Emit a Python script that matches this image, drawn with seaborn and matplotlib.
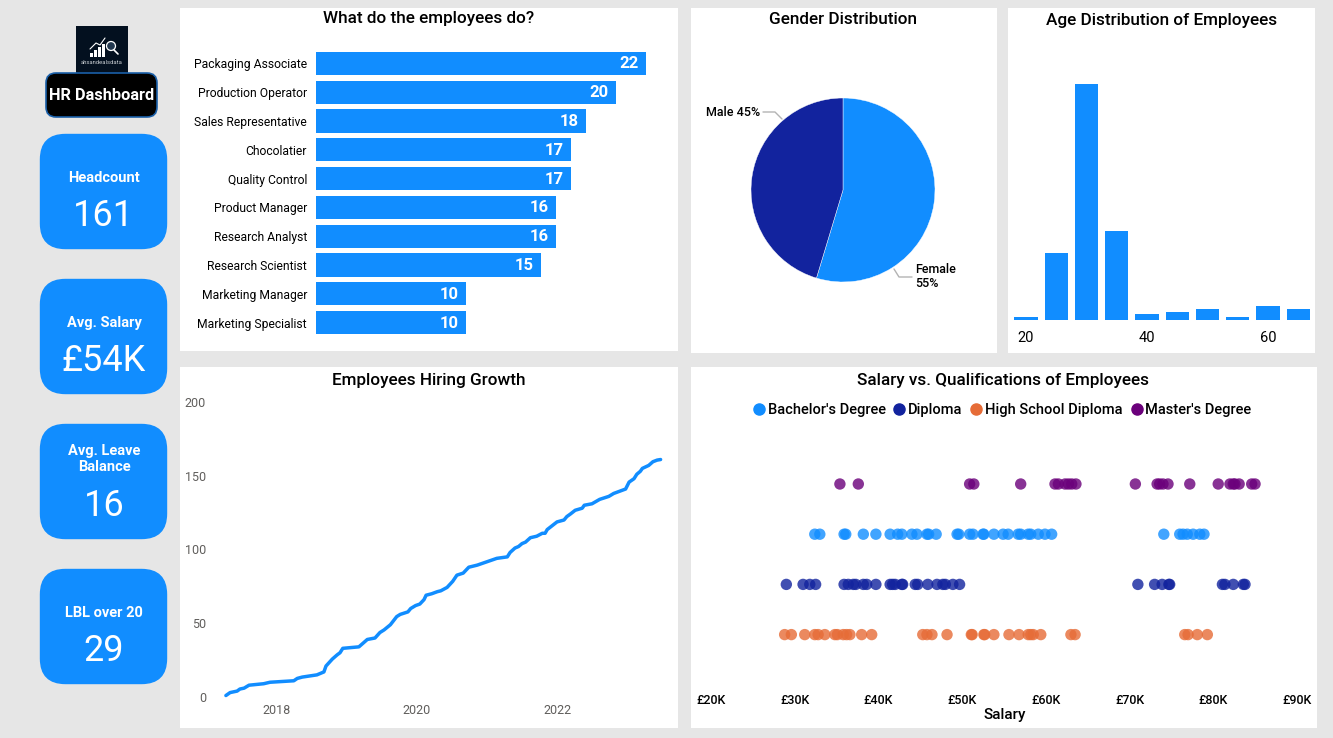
import matplotlib
matplotlib.use("Agg")
import matplotlib.pyplot as plt
import pandas as pd
import seaborn as sns
from matplotlib.lines import Line2D
from matplotlib.patches import Circle, FancyBboxPatch, Rectangle
from matplotlib.ticker import FuncFormatter

# job roles
job_titles = ["Packaging Associate", "Production Operator", "Sales Representative", "Chocolatier",
              "Quality Control", "Product Manager", "Research Analyst", "Research Scientist",
              "Marketing Manager", "Marketing Specialist"]
job_counts = [22, 20, 18, 17, 17, 16, 16, 15, 10, 10]

# gender
gender_labels = ["Female", "Male"]
gender_counts = [88, 73]

# age
age_bins = [20, 25, 30, 35, 40, 45, 50, 55, 60, 65]
age_counts = [1, 24, 85, 32, 2, 3, 4, 1, 5, 4]

# cumulative hires
hire_year = [2017.27, 2017.33, 2017.43, 2017.47, 2017.53, 2017.60, 2017.81, 2017.90, 2018.24, 2018.29,
             2018.36, 2018.57, 2018.67, 2018.70, 2018.79, 2018.86, 2018.90, 2018.94, 2019.17, 2019.23,
             2019.29, 2019.40, 2019.47, 2019.53, 2019.62, 2019.71, 2019.76, 2019.87, 2019.91, 2019.98,
             2020.04, 2020.10, 2020.13, 2020.21, 2020.29, 2020.34, 2020.43, 2020.51, 2020.57, 2020.66,
             2020.74, 2020.86, 2021.14, 2021.29, 2021.33, 2021.40, 2021.45, 2021.50, 2021.55, 2021.62,
             2021.71, 2021.79, 2021.83, 2021.86, 2022.00, 2022.10, 2022.14, 2022.19, 2022.26, 2022.36,
             2022.39, 2022.50, 2022.61, 2022.74, 2022.81, 2022.98, 2023.03, 2023.10, 2023.14, 2023.19,
             2023.22, 2023.31, 2023.37, 2023.43, 2023.48]
hire_total = [1, 3, 4, 5.4, 6, 8, 9, 10, 11, 12.6,
              13.5, 15, 17, 21, 25.7, 28.6, 30, 33, 34, 36.5,
              39, 40, 43.7, 45.5, 49, 54.5, 56, 57.7, 60, 62,
              63, 66, 69, 70, 71.4, 72, 74.3, 78.4, 82.6, 84,
              88, 89.4, 94, 95, 98, 101, 102, 104, 105, 108,
              109, 111, 111, 113.5, 118.7, 120, 122.3, 124, 126.6, 128,
              130, 131, 134, 136, 138, 141, 145.7, 148, 151, 153,
              155, 157, 159.5, 160.6, 161]

# salary in thousands, per qualification
salary_masters = [35.4, 37.6, 50.9, 51.4, 57.0, 61.1, 61.5, 62.3, 62.7, 63.1, 63.6, 70.7, 73.3, 73.6,
                  74.0, 74.6, 77.2, 80.6, 82.0, 82.4, 82.6, 83.1, 84.6, 85.0]
salary_bachelors = [32.4, 33.0, 35.9, 36.1, 38.2, 39.7, 41.4, 42.3, 42.8, 44.0, 44.6, 45.8, 46.0, 46.9,
                    49.4, 49.6, 50.9, 51.3, 52.5, 52.6, 53.8, 54.9, 55.5, 56.7, 57.0, 57.9, 58.2, 59.1,
                    59.9, 60.7, 74.1, 76.0, 76.4, 76.9, 77.6, 78.4, 78.9]
salary_diploma = [29.0, 31.0, 31.8, 32.5, 35.9, 36.4, 37.0, 37.3, 38.2, 38.6, 39.7, 41.4, 41.7, 42.0,
                  42.8, 42.9, 44.4, 44.7, 45.9, 47.0, 47.7, 48.0, 48.9, 49.7, 71.0, 73.0, 73.9, 74.7,
                  74.8, 81.1, 81.4, 82.4, 83.6, 83.8]
salary_highschool = [28.8, 29.6, 31.2, 32.4, 32.8, 33.6, 34.8, 35.1, 35.8, 36.2, 36.6, 38.0, 39.2, 45.3,
                     45.8, 46.4, 48.2, 51.1, 51.2, 52.6, 52.7, 53.8, 55.6, 56.8, 57.9, 58.2, 58.5, 59.4,
                     63.0, 63.5, 76.6, 77.0, 78.1, 79.3]

qual_legend = ["Bachelor's Degree", "Diploma", "High School Diploma", "Master's Degree"]
qual_rows = ["Master's Degree", "Bachelor's Degree", "Diploma", "High School Diploma"]

kpi_labels = ["Headcount", "Avg. Salary", "Avg. Leave\nBalance", "LBL over 20"]
kpi_values = ["161", "£54K", "16", "29"]

BLUE = "#118DFF"
NAVY = "#12239E"
ORANGE = "#E66C37"
PURPLE = "#6B007B"
GREY = "#605E5C"
W, H = 1333, 738

sns.set_theme(style="white")
plt.rcParams["font.family"] = ["Roboto", "DejaVu Sans"]
TITLE = 12.3
fig = plt.figure(figsize=(W / 100, H / 100), dpi=100, facecolor="#E6E6E6")


def axes_px(left, top, right, bottom):
    a = fig.add_axes([left / W, 1 - bottom / H, (right - left) / W, (bottom - top) / H])
    a.patch.set_alpha(0)
    sns.despine(ax=a, left=True, bottom=True)
    return a


# page furniture, in pixel coordinates
bg = fig.add_axes([0, 0, 1, 1], zorder=-1)
bg.set_xlim(0, W)
bg.set_ylim(H, 0)
bg.axis("off")
for l, t, r, b in [(180, 8, 678, 351), (691, 8, 997, 353), (1008, 8, 1315, 353),
                   (180, 367, 678, 728), (691, 367, 1317, 728)]:
    bg.add_patch(Rectangle((l, t), r - l, b - t, fc="white", ec="none"))


def round_box(x0, y0, x1, y1, rad, fc, ec="none", lw=0):
    bg.add_patch(FancyBboxPatch((x0 + rad, y0 + rad), x1 - x0 - 2 * rad, y1 - y0 - 2 * rad,
                                boxstyle=f"round,pad={rad},rounding_size={rad}", fc=fc, ec=ec, lw=lw))


# logo
bg.add_patch(Rectangle((76, 26), 52, 48, fc="#03101F", ec="none"))
for bx, bh in [(89.5, 4), (93.5, 7), (97.5, 10), (101.5, 13)]:
    bg.add_patch(Rectangle((bx, 57 - bh), 3, bh, fc="white", ec="none"))
bg.plot([90, 96, 100, 105], [49, 43, 45, 38], color="white", lw=0.8)
bg.add_patch(Circle((111, 46), 4.5, fc="#22384F", ec="white", lw=0.9))
bg.plot([114, 118], [50, 54], color="white", lw=1.2)
bg.text(102, 63, "ahsandealsdata", color="#C8CDD2", fontsize=4.2, ha="center", va="center")

round_box(46, 73, 157, 117, 10, "black", ec="#1A5FA8", lw=1.2)
bg.text(101.5, 96, "HR Dashboard", color="white", fontsize=11.8, fontweight="bold", ha="center", va="center")

for i, (lab, val) in enumerate(zip(kpi_labels, kpi_values)):
    top = 134 + 145 * i
    round_box(40.5, top + 0.5, 166.5, top + 114.5, 25, BLUE, ec=BLUE, lw=1)
    two_line = "\n" in lab
    bg.text(104, top + (35 if two_line else 44), lab, color="white", fontsize=10.5, fontweight="bold",
            ha="center", va="center", linespacing=1.15)
    bg.text(104, top + 82, val, color="white", fontsize=26, ha="center", va="center")

titles = [(429, 19, "What do the employees do?"), (843, 19, "Gender Distribution"),
          (1162, 20, "Age Distribution of Employees"), (429, 380, "Employees Hiring Growth"),
          (1003, 380, "Salary vs. Qualifications of Employees")]
for x, y, s in titles:
    bg.text(x, y, s, color="black", fontsize=TITLE, fontweight=500, ha="center", va="center")

# job bars
ax = axes_px(316, 49, 650, 337)
sns.barplot(y=job_titles, x=job_counts, color=BLUE, saturation=1, width=0.8, orient="h", linewidth=0, ax=ax)
ax.set_xlim(0, 22 * 334 / 330)
ax.set_ylim(9.5, -0.5)
ax.set_xticks([])
ax.set_xlabel("")
ax.set_ylabel("")
ax.tick_params(axis="y", length=0, pad=6.5, labelsize=8.7, labelcolor="black")
for i, v in enumerate(job_counts):
    ax.text(v - 0.5, i + 0.02, str(v), color="white", fontsize=12, fontweight="bold", ha="right", va="center")

# gender pie
ax = axes_px(751, 98, 935, 282)
ax.pie(gender_counts, colors=[BLUE, NAVY], startangle=90, counterclock=False, radius=1,
       wedgeprops={"edgecolor": "white", "linewidth": 0.3})
ax.set_xlim(-1, 1)
ax.set_ylim(-1, 1)
shares = [round(100 * c / sum(gender_counts)) for c in gender_counts]
bg.plot([763, 775, 782], [112, 112, 119], color="#B3B3B3", lw=1)
bg.plot([894, 899, 912], [269, 277, 277], color="#B3B3B3", lw=1)
bg.text(760, 112, f"{gender_labels[1]} {shares[1]}%", color="black", fontsize=9, fontweight=500, ha="right", va="center")
bg.text(915, 276.5, f"{gender_labels[0]}\n{shares[0]}%", color="black", fontsize=9, fontweight=500, ha="left",
        va="center", linespacing=1.15)

# age bars
ax = axes_px(1010, 84, 1312, 320)
sns.barplot(x=age_bins, y=age_counts, native_scale=True, color=BLUE, saturation=1, width=0.77, linewidth=0, ax=ax)
ax.set_xlim(20 - 16 / 6.05, 20 + 286 / 6.05)
ax.set_ylim(0, 85)
ax.set_yticks([])
ax.set_xticks([20, 40, 60])
ax.tick_params(axis="x", length=0, pad=8, labelsize=10.5, labelcolor="black")

# hiring line
ax = axes_px(215, 402, 670, 697)
sns.lineplot(x=hire_year, y=hire_total, color=BLUE, lw=2.5, ax=ax, solid_capstyle="round", clip_on=False)
ax.set_xlim(2018 - 62 / 70, 2018 + 393 / 70)
ax.set_ylim(0, 200)
ax.set_xticks([2018, 2020, 2022])
ax.set_xticklabels(["2018", "2020", "2022"])
ax.set_yticks([0, 50, 100, 150, 200])
ax.tick_params(axis="x", length=0, pad=5, labelsize=9, labelcolor=GREY)
ax.tick_params(axis="y", length=0, pad=6.5, labelsize=9, labelcolor=GREY)

# salary strip
salary_df = pd.concat([
    pd.DataFrame({"Salary": salary_bachelors, "Qualification": qual_legend[0]}),
    pd.DataFrame({"Salary": salary_diploma, "Qualification": qual_legend[1]}),
    pd.DataFrame({"Salary": salary_highschool, "Qualification": qual_legend[2]}),
    pd.DataFrame({"Salary": salary_masters, "Qualification": qual_legend[3]}),
])
palette = dict(zip(qual_legend, [BLUE, NAVY, ORANGE, PURPLE]))
ax = axes_px(700, 440, 1310, 680)
sns.stripplot(data=salary_df, x="Salary", y="Qualification", hue="Qualification", order=qual_rows,
              hue_order=qual_legend, palette=palette, jitter=False, size=8.2, alpha=0.8, linewidth=0,
              orient="h", legend=False, ax=ax)
ax.set_xlim(20 - 11 / 8.37, 20 + 599 / 8.37)
ax.set_ylim((680 - 484) / 50.2, (440 - 484) / 50.2)
ax.set_yticks([])
ax.set_ylabel("")
ax.set_xticks(range(20, 100, 10))
ax.xaxis.set_major_formatter(FuncFormatter(lambda v, _: f"£{v:.0f}K"))
ax.tick_params(axis="x", length=0, pad=10, labelsize=9, labelcolor="black")
for lbl in ax.get_xticklabels():
    lbl.set_fontweight(500)
ax.set_xlabel("Salary", fontsize=11, fontweight=500, color="black", labelpad=1)
handles = [Line2D([], [], marker="o", ls="", ms=8, color=palette[q], label=q) for q in qual_legend]
fig.legend(handles=handles, ncol=4, loc="center", bbox_to_anchor=(1001.5 / W, 1 - 410 / H), frameon=False,
           prop={"size": 10.5, "weight": 500}, handlelength=1, handletextpad=0.1, columnspacing=0.45,
           labelcolor="black")

fig.savefig("out.png", dpi=100, facecolor=fig.get_facecolor())
